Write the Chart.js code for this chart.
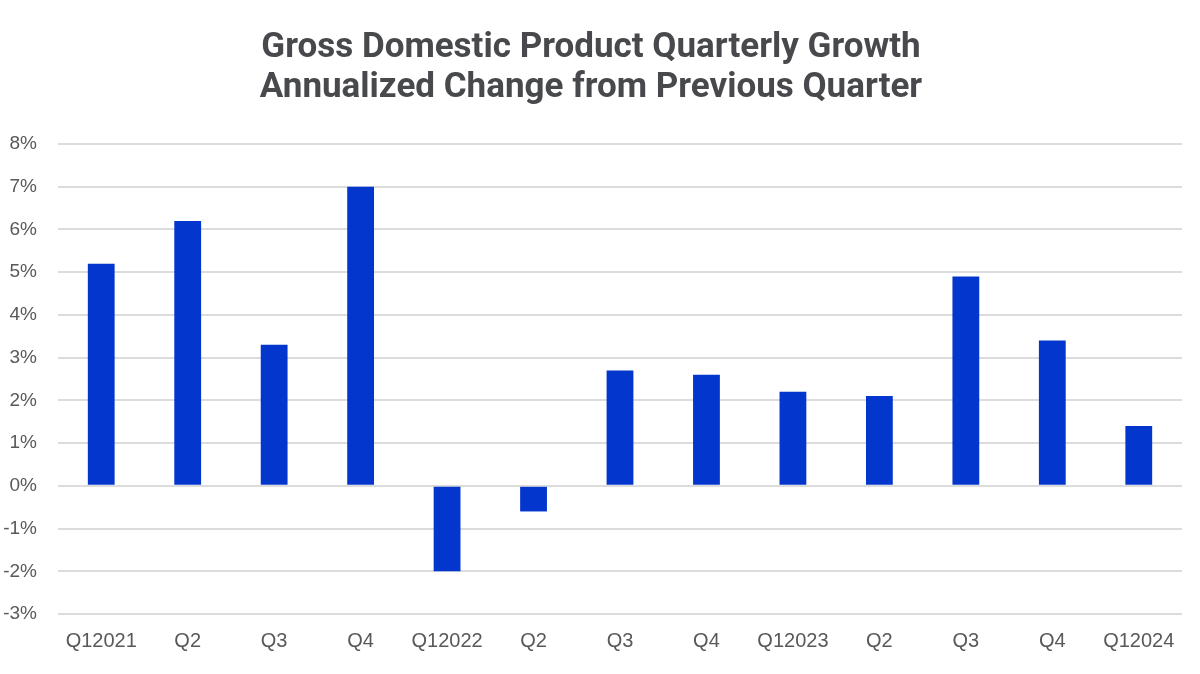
<!DOCTYPE html>
<html><head><meta charset="utf-8">
<script src="https://cdn.jsdelivr.net/npm/chart.js@4.4.1/dist/chart.umd.min.js"></script>
<style>html,body{margin:0;padding:0;background:#fff}#wrap{width:1200px;height:674px}</style>
</head><body><div id="wrap"><canvas id="c" width="1200" height="674"></canvas></div>
<script>
const categories = ["Q12021","Q2","Q3","Q4","Q12022","Q2","Q3","Q4","Q12023","Q2","Q3","Q4","Q12024"];
const gdpGrowth = [5.2, 6.2, 3.3, 7.0, -2.0, -0.6, 2.7, 2.6, 2.2, 2.1, 4.9, 3.4, 1.4];
const titleLines = ["Gross Domestic Product Quarterly Growth","Annualized Change from Previous Quarter"];
const yMin = -3, yMax = 8;

new Chart(document.getElementById('c'), {
  type: 'bar',
  data: { labels: categories, datasets: [{ data: gdpGrowth, backgroundColor: '#0336CC', borderWidth: 0, barPercentage: 0.31, categoryPercentage: 1.0 }] },
  options: {
    responsive: false, animation: false,
    layout: { padding: { left: 0, right: 18, top: 0, bottom: 14 } },
    plugins: {
      legend: { display: false }, tooltip: { enabled: false },
      title: { display: true, text: titleLines, color: '#48494c', font: { family: 'Roboto', size: 35, weight: 'bold', lineHeight: 40/35 }, padding: { top: 28, bottom: 36 } }
    },
    scales: {
      x: { grid: { display: false }, border: { display: false },
           ticks: { color: '#58595b', font: { family: 'Liberation Sans', size: 20 }, padding: 7, maxRotation: 0, autoSkip: false } },
      y: { min: yMin, max: yMax, afterFit: s => { s.width = 58; },
           grid: { color: '#dcdcdc', lineWidth: 2, drawTicks: false }, border: { display: false },
           ticks: { stepSize: 1, color: '#58595b', font: { family: 'Liberation Sans', size: 19 }, padding: 21, callback: v => v + '%' } }
    }
  }
});
</script></body></html>
